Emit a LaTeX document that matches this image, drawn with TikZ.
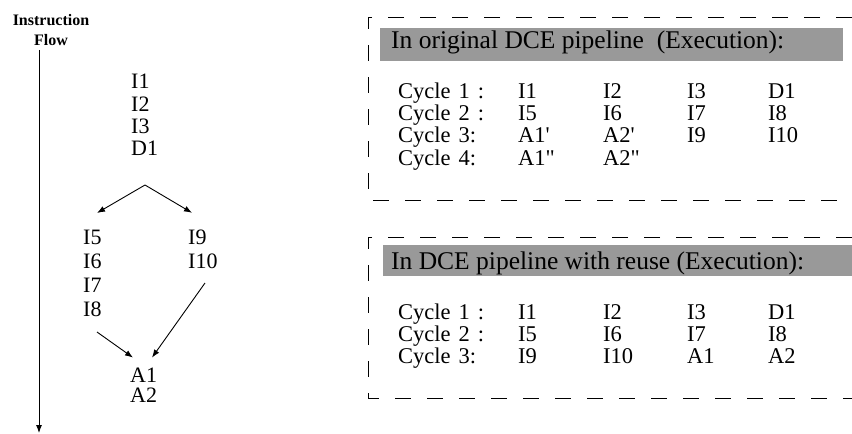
\documentclass[tikz,border=0pt]{standalone}
\usepackage{fontspec}
\setmainfont{Liberation Serif}
\usetikzlibrary{arrows.meta}
\definecolor{barfill}{HTML}{999999}
\tikzset{
  instr/.style={anchor=south west, inner sep=0pt, align=left,
    font=\fontsize{22}{22.3}\selectfont},
  link/.style={-{Latex[length=8pt,width=6pt]}, line width=0.9pt},
  frame/.style={dash pattern=on 16pt off 16pt, line width=0.9pt},
  bar/.style={fill=barfill, draw=none},
  heading/.style={anchor=base west, inner sep=0pt, font=\fontsize{25.5}{26}\selectfont},
  cycles/.style={anchor=north west, inner sep=0pt,
    font=\fontsize{22.5}{22}\selectfont},
}
\newcommand{\cycletab}[1]{%
  \spaceskip=8pt\relax\tabcolsep=0pt
  \begin{tabular}{p{120pt}p{85pt}p{84pt}p{81pt}l}#1\end{tabular}}
\begin{document}
\begin{tikzpicture}[x=1pt,y=-1pt]
\useasboundingbox (0,0) rectangle (852,434);

% instruction flow axis
\node[align=center, inner sep=0pt, font=\fontsize{16}{20}\selectfont\bfseries] (flow) at (51,30) {Instruction\\Flow};
\coordinate (flowend) at (39,433);
\draw[-{Latex[length=8pt,width=6pt]}, line width=0.9pt] ([xshift=-12pt,yshift=-4pt]flow.south) -- (flowend);

% instruction groups
\node[instr] (top) at (131,156) {I1\\I2\\I3\\D1};
\node[instr, font=\fontsize{22}{24}\selectfont] (left) at (83,317) {I5\\I6\\I7\\I8};
\node[instr, font=\fontsize{22}{24}\selectfont] (right) at (188,269) {I9\\I10};
\node[instr, font=\fontsize{22}{20.5}\selectfont] (join) at (130,403) {A1\\A2};

\draw[link] ([xshift=14pt,yshift=-29pt]top.south west) -- ([xshift=14pt,yshift=17pt]left.north west);
\draw[link] ([xshift=14pt,yshift=-29pt]top.south west) -- ([xshift=4pt,yshift=17pt]right.north west);
\draw[link] ([xshift=14pt,yshift=-15pt]left.south west) -- ([xshift=3pt,yshift=10pt]join.north west);
\draw[link] ([xshift=17pt,yshift=-14pt]right.south west) -- ([xshift=22pt,yshift=10pt]join.north west);

% original pipeline
\draw[frame] (852,17) -- (368,17) -- (368,200) -- (852,200);
\fill[bar] (380,28) rectangle (843,61);
\node[heading] (orig) at (391,48) {In original DCE pipeline\ \ (Execution):};
\node[cycles] (origtab) at (398,82.6) {\cycletab{%
Cycle 1 : & I1 & I2 & I3 & D1\\
Cycle 2 : & I5 & I6 & I7 & I8\\
Cycle 3: & A1\textquotesingle & A2\textquotesingle & I9 & I10\\
Cycle 4: & A1\textquotedbl & A2\textquotedbl & & \\}};

% pipeline with reuse
\draw[frame] (852,237) -- (368,237) -- (368,398) -- (852,398);
\fill[bar] (383,245) rectangle (852,276);
\node[heading] (reuse) at (391,269) {In DCE pipeline with reuse (Execution):};
\node[cycles] (reusetab) at (398,303.6) {\cycletab{%
Cycle 1 : & I1 & I2 & I3 & D1\\
Cycle 2 : & I5 & I6 & I7 & I8\\
Cycle 3: & I9 & I10 & A1 & A2\\}};
\end{tikzpicture}
\end{document}
